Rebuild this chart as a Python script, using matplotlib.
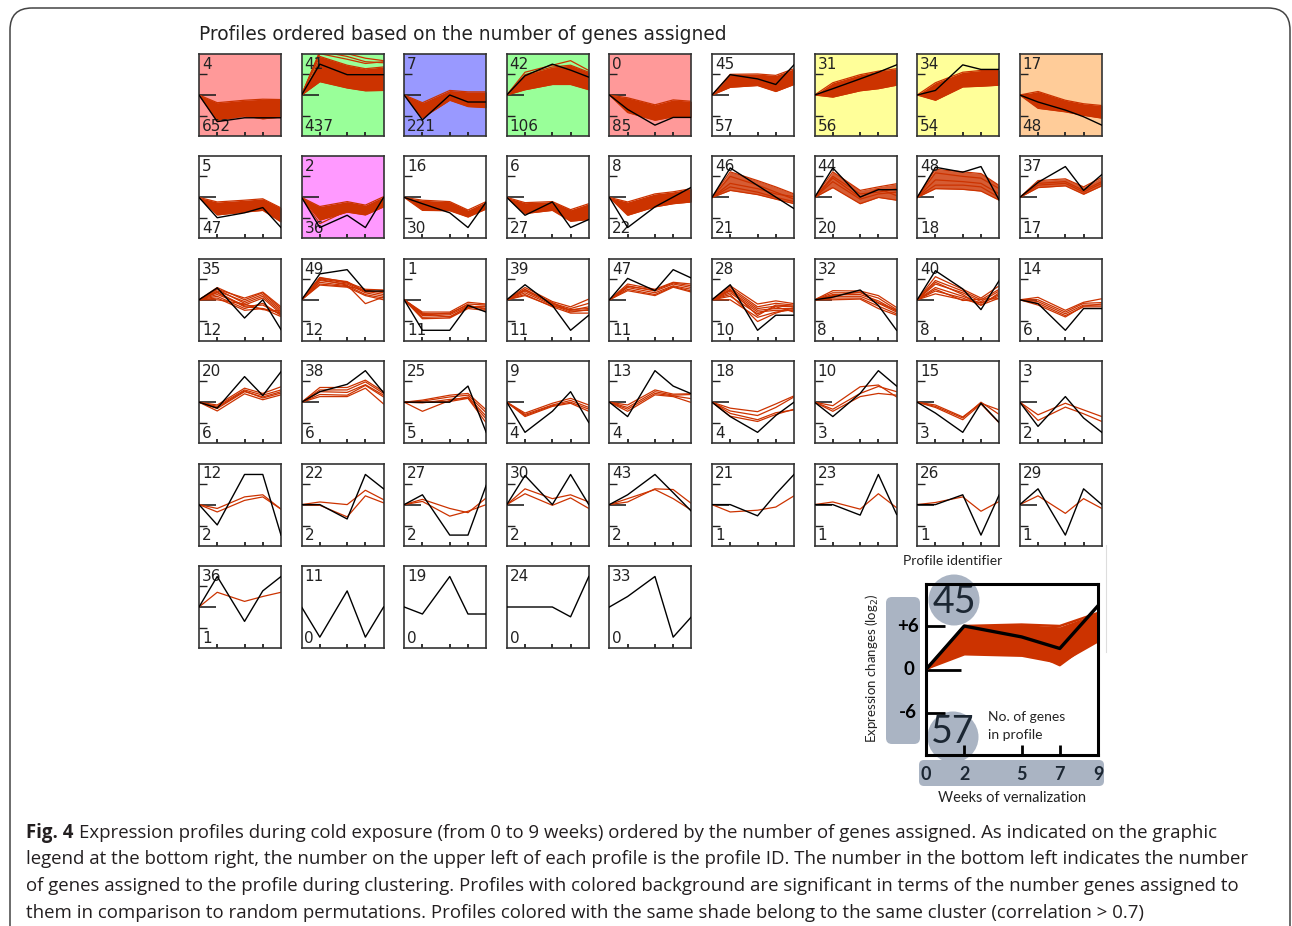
import matplotlib

matplotlib.use("Agg")
import matplotlib.pyplot as plt
from matplotlib.patches import FancyBboxPatch, Circle

W, H = 1292, 926

WEEKS = [0, 2, 5, 7, 9]

GRID = [
    [4, 41, 7, 42, 0, 45, 31, 34, 17],
    [5, 2, 16, 6, 8, 46, 44, 48, 37],
    [35, 49, 1, 39, 47, 28, 32, 40, 14],
    [20, 38, 25, 9, 13, 18, 10, 15, 3],
    [12, 22, 27, 30, 43, 21, 23, 26, 29],
    [36, 11, 19, 24, 33],
]

GENE_COUNTS = {
    4: 652, 41: 437, 7: 221, 42: 106, 0: 85, 45: 57, 31: 56, 34: 54, 17: 48,
    5: 47, 2: 36, 16: 30, 6: 27, 8: 22, 46: 21, 44: 20, 48: 18, 37: 17,
    35: 12, 49: 12, 1: 11, 39: 11, 47: 11, 28: 10, 32: 8, 40: 8, 14: 6,
    20: 6, 38: 6, 25: 5, 9: 4, 13: 4, 18: 4, 10: 3, 15: 3, 3: 2,
    12: 2, 22: 2, 27: 2, 30: 2, 43: 2, 21: 1, 23: 1, 26: 1, 29: 1,
    36: 1, 11: 0, 19: 0, 24: 0, 33: 0,
}

# significant profiles, shaded by cluster
SHADES = {
    4: "#ff9999", 0: "#ff9999",
    41: "#99ff99", 42: "#99ff99",
    7: "#9999ff",
    31: "#ffff99", 34: "#ffff99",
    17: "#ffcc99",
    2: "#ff99ff",
}

# model profiles (black), log2 change at WEEKS
MODEL = {
    4: [0, -7.6, -6.5, -6.5, -6.5],
    41: [0, 8.8, 5.8, 5.8, 5.8],
    7: [0, -7.1, 0, -2.0, -2.0],
    42: [0, 5.5, 8.8, 7.1, 5.1],
    0: [0, -4.1, -8.6, -6.4, -6.4],
    45: [0, 5.8, 4.6, 3.0, 8.6],
    31: [0, 1.8, 4.6, 6.5, 8.6],
    34: [0, 1.3, 8.6, 7.3, 7.3],
    17: [0, -2.0, -4.3, -6.2, -8.6],
    5: [0, -5.8, -4.4, -2.9, -8.6],
    2: [0, -8.6, -5.1, -8.6, 0],
    16: [0, -1.8, -4.4, -8.6, -1.3],
    6: [0, -5.1, -1.3, -8.6, -6.3],
    8: [0, -8.6, -2.7, 0.1, 2.9],
    46: [0, 8.4, 3.4, 0.1, -3.2],
    44: [0, 8.4, 0.1, 2.2, 2.2],
    48: [0, 8.6, 7.2, 8.8, -0.8],
    37: [0, 4.3, 8.8, 2.0, 6.5],
    35: [0, 3.4, -5.2, 0, -8.5],
    49: [0, 7.4, 8.6, 2.5, 2.5],
    1: [0, -8.7, -8.7, -1.6, -3.5],
    39: [0, 4.3, -1.6, -8.7, -4.4],
    47: [0, 6.1, 2.6, 8.6, 6.2],
    28: [0, 4.3, -8.7, -4.4, -4.4],
    32: [0, 0.75, 2.8, -1.6, -8.7],
    40: [0, 8.3, 3.1, -2.8, 5.5],
    14: [0, -1.1, -8.7, -2.5, -2.5],
    20: [0, -1.7, 7.3, 1.9, 8.7],
    38: [0, 3.0, 5.1, 9.0, 2.7],
    25: [0, 0, 0, 4.6, -8.6],
    9: [0, -8.6, -2.6, 3.0, -5.8],
    13: [0, -4.1, 9.0, 4.6, 2.4],
    18: [0, -4.1, -8.6, -3.8, 0],
    10: [0, -4.1, 2.5, 9.0, 4.6],
    15: [0, -3.1, -8.6, -0.3, -5.8],
    3: [0, -6.9, 1.6, -4.5, -8.6],
    12: [0, -5.8, 8.6, 8.6, -8.7],
    22: [0, 0, -4.1, 8.6, 4.5],
    27: [0, 2.8, -8.7, -8.7, 5.5],
    30: [0, 8.3, 0, 8.6, 0],
    43: [0, 2.8, 8.6, 3.4, -1.9],
    21: [0, 0, -3.2, 3.0, 8.6],
    23: [0, 0, -3.0, 8.6, -2.8],
    26: [0, 0, 2.8, -8.7, 2.8],
    29: [0, 4.5, -8.7, 4.5, 0],
    36: [0, 8.7, -4.1, 4.6, 8.7],
    11: [0, -8.6, 4.6, -8.6, 0],
    19: [0, -2.0, 8.7, -2.0, -2.0],
    24: [0, 0, 0, -2.8, 8.7],
    33: [0, 3.0, 8.7, -8.6, -2.8],
}

# dense gene bundles: (upper, lower) envelope
BANDS = {
    4: ([0, -2.2, -1.5, -1.2, -1.3], [0, -7.2, -6.0, -6.8, -6.3]),
    41: ([0, 11.0, 8.5, 7.5, 8.0], [0, 3.8, 2.0, 1.2, 1.3]),
    7: ([0, -2.2, 1.3, 0.9, 0.9], [0, -6.5, -1.5, -3.3, -3.6]),
    42: ([0, 5.8, 8.0, 8.5, 6.5], [0, 1.5, 3.0, 3.0, 1.5]),
    0: ([0, -0.8, -2.8, -1.4, -1.8], [0, -5.0, -7.2, -6.2, -6.4]),
    45: ([0, 5.9, 6.0, 5.6, 7.5], [0, 2.2, 2.7, 1.0, 3.0]),
    31: ([0, 3.5, 5.8, 6.8, 7.5], [0, -0.6, 1.2, 1.8, 2.8]),
    34: ([0, 3.5, 6.5, 7.0, 7.0], [0, -1.5, 2.3, 2.5, 2.8]),
    17: ([0, 1.0, -1.5, -2.5, -3.0], [0, -3.8, -4.8, -5.8, -6.6]),
    5: ([0, -1.3, -0.8, -0.4, -3.0], [0, -5.0, -4.2, -3.7, -7.0]),
    2: ([0, -2.6, -1.2, -2.2, 0.2], [0, -6.5, -4.2, -5.0, -2.7]),
    16: ([0, -0.8, -1.2, -3.6, -1.2], [0, -3.7, -3.8, -5.6, -3.3]),
    6: ([0, -1.5, -1.2, -3.5, -1.8], [0, -4.6, -3.7, -6.8, -6.3]),
    8: ([0, -1.3, 1.0, 1.6, 2.5], [0, -5.1, -2.7, -1.8, -1.3]),
    46: ([0, 7.3, 4.8, 3.0, 1.0], [0, 2.0, 0.8, -0.5, -1.8]),
    44: ([0, 7.3, 2.0, 3.0, 3.9], [0, 2.8, -1.8, 0.0, -0.8]),
    48: ([0, 8.0, 7.3, 6.8, 3.4], [0, 2.5, 2.3, 1.8, -0.8]),
    37: ([0, 4.8, 5.3, 3.0, 5.7], [0, 2.8, 3.3, 0.9, 3.3]),
}

# individual gene lines (red)
GENE_LINES = {
    41: [[0, 12.5, 11.0, 9.5, 9.2], [0, 12.0, 11.8, 10.5, 9.8], [0, 11.8, 10.2, 9.0, 9.5]],
    42: [[0, 6.5, 8.5, 9.8, 7.0]],
    2: [[0, -7.5, -3.8, -4.5, -1.0]],
    46: [[0, 6.0, 3.5, 1.5, -0.5], [0, 4.0, 2.5, 1.0, 0.2], [0, 3.0, 1.5, 0.0, -1.2]],
    44: [[0, 6.0, 1.0, 1.5, 2.5], [0, 4.5, -0.5, 1.0, 1.5], [0, 5.5, 0.0, 2.5, 0.5]],
    48: [[0, 7.0, 6.0, 5.5, 2.5], [0, 5.0, 4.5, 4.0, 1.0], [0, 3.5, 3.5, 3.0, 0.0]],
    37: [[0, 4.0, 4.5, 2.0, 4.5], [0, 3.5, 4.0, 1.5, 4.0]],
    35: [[0, 3.5, 0.0, 2.0, -2.5], [0, 3.0, -1.0, 1.0, -3.5], [0, 2.5, -0.5, 1.5, -3.0],
         [0, 1.5, -1.5, 0.5, -4.0], [0, 1.0, -2.5, -1.0, -4.5], [0, 0.5, -3.0, -2.5, -3.8],
         [0, 2.0, -2.0, -2.5, -4.8], [0, 3.0, 0.5, 2.2, -2.0], [0, 0.0, -1.2, -2.8, -3.2],
         [0, 2.2, -1.8, -1.5, -4.2]],
    49: [[0, 6.4, 5.0, 3.0, 2.8], [0, 6.0, 4.8, 2.5, 1.5], [0, 5.5, 4.5, 2.0, 1.0],
         [0, 5.0, 4.0, 1.5, 0.5], [0, 4.5, 3.8, 2.8, 2.0], [0, 4.2, 3.6, 1.2, 0.0],
         [0, 5.8, 4.2, -1.1, 0.8], [0, 6.2, 5.2, 2.2, 2.5]],
    1: [[0, -3.5, -3.5, -0.7, -1.2], [0, -4.0, -4.0, -1.2, -1.5], [0, -4.5, -4.3, -1.8, -2.5],
        [0, -5.0, -4.8, -2.2, -2.0], [0, -5.4, -5.2, -2.5, -3.0], [0, -4.2, -3.8, -1.5, -2.8],
        [0, -3.8, -5.0, -2.0, -1.8]],
    39: [[0, 3.5, -0.5, -2.0, 0.2], [0, 3.0, -1.0, -2.5, -1.0], [0, 2.5, -1.2, -3.0, -2.0],
         [0, 2.0, -1.5, -3.5, -2.8], [0, 1.5, -2.0, -3.8, -3.8], [0, 1.2, -1.8, -2.8, -2.5],
         [0, 2.8, -0.8, -3.2, -3.0]],
    47: [[0, 4.5, 3.0, 5.0, 4.5], [0, 4.0, 2.5, 4.5, 3.5], [0, 3.5, 2.0, 4.0, 3.0],
         [0, 3.0, 1.5, 3.8, 2.5], [0, 2.6, 1.2, 3.6, 2.2], [0, 3.8, 2.8, 4.8, 4.0]],
    28: [[0, 4.0, -1.2, -0.3, -1.1], [0, 3.5, -2.0, -1.0, -1.5], [0, 3.0, -2.5, -1.8, -2.0],
         [0, 2.5, -3.0, -2.5, -2.5], [0, 2.0, -3.5, -3.0, -3.0], [0, 1.0, -4.0, -2.0, -3.5],
         [0, 0.0, -5.0, -3.5, -2.8], [0, 1.5, -6.2, -3.8, -2.2], [0, 2.8, -4.5, -1.5, -1.8]],
    32: [[0, 2.6, 2.5, 1.2, -2.2], [0, 2.0, 2.0, 0.5, -2.8], [0, 1.5, 1.5, -0.3, -3.2],
         [0, 1.0, 1.0, -1.0, -3.5], [0, 0.5, 0.5, -1.8, -4.0], [0, 0.0, 0.2, -2.5, -4.4],
         [0, 1.2, 2.2, -0.8, -3.0]],
    40: [[0, 6.6, 3.0, 0.5, 4.0], [0, 5.5, 2.5, 0.0, 3.0], [0, 4.5, 2.0, -0.5, 2.5],
         [0, 3.5, 1.0, -1.0, 1.5], [0, 2.5, 0.5, -1.5, 0.5], [0, 1.7, 0.0, -0.8, 1.0],
         [0, 5.0, 1.5, -1.6, 2.0], [0, 3.0, -0.2, 0.2, 0.3]],
    14: [[0, 0.7, -3.0, -0.7, 0.3], [0, 0.0, -3.5, -1.0, -0.8], [0, -0.5, -4.0, -1.5, -1.5],
         [0, -1.0, -4.5, -2.0, -2.0], [0, -1.5, -4.9, -1.8, -1.2]],
    20: [[0, -0.8, 4.0, 2.5, 4.4], [0, -1.2, 3.5, 2.0, 3.5], [0, -1.8, 3.0, 1.5, 3.0],
         [0, -2.5, 2.4, 0.7, 2.1], [0, -1.5, 3.2, 1.2, 2.6]],
    38: [[0, 4.2, 4.2, 6.3, 3.0], [0, 3.5, 3.5, 5.8, 2.5], [0, 3.0, 2.8, 5.0, 2.0],
         [0, 2.2, 2.0, 4.8, 1.5], [0, 1.6, 1.6, 4.0, -0.5]],
    25: [[0, 0.6, 2.0, 2.5, -2.2], [0, 0.3, 1.5, 2.0, -3.0], [0, -2.6, 0.5, 1.5, -4.0],
         [0, -0.2, 0.8, 1.2, -4.8], [0, 0.0, 0.2, 1.1, -5.9]],
    9: [[0, -3.1, -0.3, 1.1, -0.8], [0, -3.5, -0.8, 0.5, -1.5], [0, -3.8, -1.0, 0.0, -2.0],
        [0, -4.1, -1.2, -0.3, -2.6]],
    13: [[0, -0.8, 3.5, 2.3, 2.4], [0, -1.5, 3.0, 2.0, 2.2], [0, -2.0, 2.5, 1.8, 1.0],
         [0, -2.6, 2.1, 1.6, -0.1]],
    18: [[0, -1.7, -2.7, -0.5, 1.8], [0, -2.5, -3.8, -1.5, 1.5], [0, -3.2, -5.0, -3.0, -2.2],
         [0, -4.0, -5.5, -3.5, -2.0]],
    10: [[0, -1.0, 4.4, 4.9, 1.5], [0, -2.0, 2.5, 4.5, 3.0], [0, -2.6, 1.6, 2.5, 2.0]],
    15: [[0, -0.8, -4.2, -0.3, -2.2], [0, -1.2, -4.5, 0.0, -3.5], [0, -1.5, -5.0, -0.5, -5.9]],
    3: [[0, -3.6, -0.3, -2.2, -4.1], [0, -5.2, -1.4, -3.3, -5.5]],
    12: [[0, -1.1, 2.2, 2.8, -1.3], [0, -2.1, 1.2, 2.2, -1.3]],
    22: [[0, 0.75, 0.0, 4.1, 1.4], [0, -0.2, -3.5, 2.5, 0.5]],
    27: [[0, 1.5, -1.1, -2.3, 1.9], [0, 0.9, -3.3, -1.9, 0.0]],
    30: [[0, 4.5, 1.7, 2.8, 0.75], [0, 3.1, -0.2, 1.9, -1.1]],
    43: [[0, 0.75, 4.5, 4.3, 0.3], [0, 1.7, 4.3, 1.7, -1.6]],
    21: [[0, -2.1, -1.6, -0.7, 2.5]],
    23: [[0, 0.75, -1.3, 3.1, -0.9]],
    26: [[0, 0.6, 2.2, -1.9, 0.9]],
    29: [[0, 2.5, -2.5, 1.7, -1.1]],
    36: [[0, 4.2, 1.6, 3.0, 4.2]],
}

# legend (enlarged profile 45)
LEGEND_ID, LEGEND_COUNT = 45, 57
LEGEND_MODEL = [0, 6.0, 4.5, 2.9, 8.8]
LEGEND_UPPER = [0, 6.0, 6.2, 5.9, 7.8]
LEGEND_LOWER = [0, 2.0, 1.8, 0.8, 3.8]
LEGEND_LINES = [[0, 6.0, 6.2, 6.0, 7.8], [0, 5.6, 5.8, 4.6, 7.0], [0, 3.0, 3.0, 0.6, 4.5]]
LEGEND_YTICKS = ["+6", "0", "-6"]

TITLE = "Profiles ordered based on the number of genes assigned"
CAPTION_HEAD = "Fig. 4"
CAPTION = [
    "Expression profiles during cold exposure (from 0 to 9 weeks) ordered by the number of genes assigned. As indicated on the graphic",
    "legend at the bottom right, the number on the upper left of each profile is the profile ID. The number in the bottom left indicates the number",
    "of genes assigned to the profile during clustering. Profiles with colored background are significant in terms of the number genes assigned to",
    "them in comparison to random permutations. Profiles colored with the same shade belong to the same cluster (correlation > 0.7)",
]

RED = "#cc3300"
GREY = "#aab4c3"
YLIM = 11.7


def rect(x, y, w, h):
    return [x / W, 1 - (y + h) / H, w / W, h / H]


fig = plt.figure(figsize=(W / 100, H / 100), dpi=100)
bg = fig.add_axes([0, 0, 1, 1])
bg.set_xlim(0, W)
bg.set_ylim(H, 0)
bg.axis("off")

bg.add_patch(FancyBboxPatch((10, 8), 1280, 1000, boxstyle="round,pad=0,rounding_size=22",
                            fill=False, ec="#444444", lw=1.1))
bg.text(199, 34, TITLE, fontsize=13.4, color="#222222", va="center", ha="left")

# small panels
for r, row in enumerate(GRID):
    for c, pid in enumerate(row):
        x0 = 199 + 102.6 * c
        y0 = 54 + 102.4 * r
        ax = fig.add_axes(rect(x0, y0, 82, 82))
        ax.set_facecolor(SHADES.get(pid, "white"))
        ax.set_xlim(0, 9)
        ax.set_ylim(-YLIM, YLIM)
        for s in ax.spines.values():
            s.set_color("#333333")
            s.set_linewidth(1.2)
        ax.set_xticks([2, 5, 7])
        ax.tick_params(axis="x", direction="in", length=3, width=1.3, color="#222222",
                       labelbottom=False)
        if GENE_COUNTS[pid] > 0:
            ax.set_yticks([-6, 6])
            ax.set_yticks([0], minor=True)
            ax.tick_params(axis="y", which="major", direction="in", length=5.5, width=1.0,
                           color="#222222", labelleft=False)
            ax.tick_params(axis="y", which="minor", direction="in", length=12.5, width=1.2,
                           color="#222222", labelleft=False)
        else:
            ax.set_yticks([])
        if pid in BANDS:
            up, lo = BANDS[pid]
            alpha = 1.0 if GENE_COUNTS[pid] >= 22 else 0.8
            ax.fill_between(WEEKS, lo, up, color=RED, alpha=alpha, lw=0, zorder=2)
            ax.plot(WEEKS, up, color=RED, lw=0.9, zorder=2)
            ax.plot(WEEKS, lo, color=RED, lw=0.9, zorder=2)
        for g in GENE_LINES.get(pid, []):
            ax.plot(WEEKS, g, color=RED, lw=0.9, zorder=2)
        ax.plot(WEEKS, MODEL[pid], color="black", lw=1.0, zorder=3)
        ax.text(0.035, 0.965, str(pid), transform=ax.transAxes, va="top", ha="left",
                fontsize=11, color="#222222", zorder=2.5)
        ax.text(0.035, 0.065, str(GENE_COUNTS[pid]), transform=ax.transAxes, va="baseline",
                ha="left", fontsize=11, color="#222222", zorder=2.5)

# legend decorations (under the legend axes)
bg.add_patch(FancyBboxPatch((886, 597), 34, 147, boxstyle="round,pad=0,rounding_size=6",
                            fc=GREY, ec="none"))
bg.add_patch(FancyBboxPatch((919, 760), 185, 26, boxstyle="round,pad=0,rounding_size=5",
                            fc=GREY, ec="none"))
bg.add_patch(Circle((954, 600), 25.5, fc=GREY, ec="none"))
bg.add_patch(Circle((953, 737), 25.5, fc=GREY, ec="none"))
ink = "#1c2733"
lfont = "Lato"
bg.text(954, 602, str(LEGEND_ID), fontsize=27, family=lfont, color=ink, ha="center", va="center")
bg.text(953, 732, str(LEGEND_COUNT), fontsize=27, family=lfont, color=ink, ha="center", va="center")
bg.text(953, 561, "Profile identifier", fontsize=10, family=lfont, color="#222222",
        ha="center", va="center")
bg.text(872, 668, "Expression changes (log$_2$)", fontsize=9.5, family=lfont, color="#222222",
        ha="center", va="center", rotation=90)
bg.text(988, 717, "No. of genes", fontsize=10, family=lfont, color="#222222", ha="left", va="center")
bg.text(988, 735, "in profile", fontsize=10, family=lfont, color="#222222", ha="left", va="center")
bg.text(1012, 798, "Weeks of vernalization", fontsize=10.5, family=lfont, color="#222222",
        ha="center", va="center")
bg.plot([1106, 1106], [545, 652], color="#dddddd", lw=0.8)

lg = fig.add_axes(rect(926, 584, 172, 171))
lg.set_facecolor("none")
lg.set_xlim(0, 9)
lg.set_ylim(-11.8, 11.8)
for s in lg.spines.values():
    s.set_color("black")
    s.set_linewidth(2.2)
lg.set_xticks(WEEKS[1:4])
lg.tick_params(axis="x", direction="in", length=7, width=2.0, labelbottom=False)
lg.set_yticks([-6, 6])
lg.set_yticks([0], minor=True)
lg.tick_params(axis="y", which="major", direction="in", length=13.5, width=2.0, labelleft=False)
lg.tick_params(axis="y", which="minor", direction="in", length=25.5, width=2.0, labelleft=False)
lg.fill_between(WEEKS, LEGEND_LOWER, LEGEND_UPPER, color=RED, lw=0, zorder=2)
for g in LEGEND_LINES:
    lg.plot(WEEKS, g, color=RED, lw=1.8, zorder=2)
lg.plot(WEEKS, LEGEND_MODEL, color="black", lw=2.4, zorder=3)

# legend axis labels
for lab, yv in zip(LEGEND_YTICKS, [6, 0, -6]):
    ypix = 584 + (11.8 - yv) / 23.6 * 171
    bg.text(908 if lab != "0" else 909, ypix, lab, fontsize=13.5, family=lfont, weight="bold",
            color="black", ha="center", va="center")
for wk in WEEKS:
    bg.text(926 + wk / 9 * 172, 774, str(wk), fontsize=13, family=lfont, weight="bold",
            color=ink, ha="center", va="center")

# caption
cap_font = "Open Sans"
head = bg.text(26, 838, CAPTION_HEAD, fontsize=13.4, family=cap_font, weight="bold",
               color="#231f20", ha="left", va="baseline")
fig.canvas.draw()
head_end = bg.transData.inverted().transform(
    (head.get_window_extent().x1, 0))[0]
for i, line in enumerate(CAPTION):
    x = max(72, head_end + 6) if i == 0 else 26
    bg.text(x, 838 + 26.5 * i, line, fontsize=13.4, family=cap_font, color="#231f20",
            ha="left", va="baseline")

fig.savefig("out.png", dpi=100)
